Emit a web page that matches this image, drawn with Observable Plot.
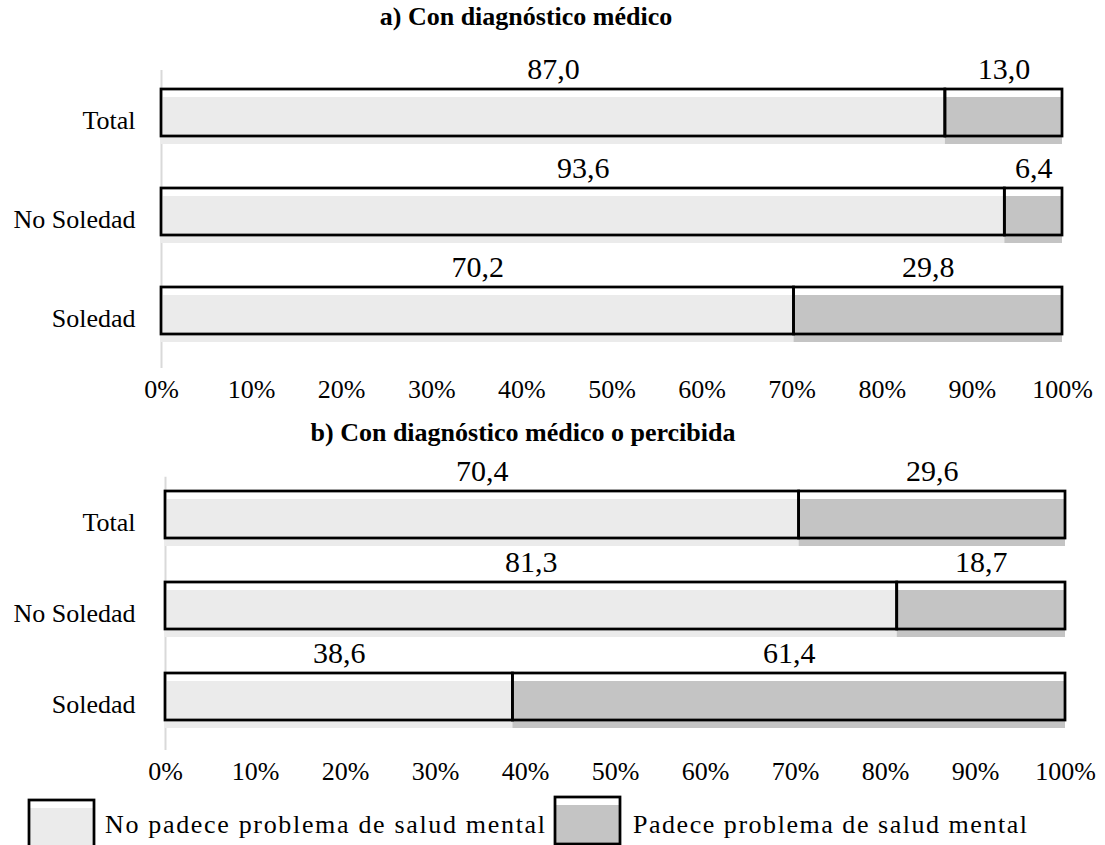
<!DOCTYPE html>
<html>
<head>
<meta charset="utf-8">
<script src="https://cdn.jsdelivr.net/npm/d3@7"></script>
<script src="https://cdn.jsdelivr.net/npm/@observablehq/plot@0.6"></script>
<style>
  html, body { margin: 0; padding: 0; background: #fff; }
  #root { position: relative; width: 1105px; height: 845px; overflow: hidden; background: #fff; }
  .layer { position: absolute; left: 0; }
  svg { overflow: visible; }
</style>
</head>
<body>
<div id="root">
  <div id="panelA" class="layer" style="top:40px"></div>
  <div id="panelB" class="layer" style="top:455px"></div>
  <div id="overlay" class="layer" style="top:0"></div>
</div>
<script>
// ---- data ----
const categories = ["Total", "No Soledad", "Soledad"];
const seriesNames = ["No padece problema de salud mental", "Padece problema de salud mental"];
const panelTitles = ["a) Con diagnóstico médico", "b) Con diagnóstico médico o percibida"];
const panelA_noPadece = [87.0, 93.6, 70.2];
const panelA_padece   = [13.0, 6.4, 29.8];
const panelB_noPadece = [70.4, 81.3, 38.6];
const panelB_padece   = [29.6, 18.7, 61.4];
const tickValues = [0, 10, 20, 30, 40, 50, 60, 70, 80, 90, 100];
const seriesColors = ["#ebebeb", "#c4c4c4"];

const FONT = "'Liberation Serif', 'Times New Roman', Times, serif";

function rows(no, yes) {
  const out = [];
  categories.forEach((c, i) => {
    out.push({cat: c, series: seriesNames[0], value: no[i]});
    out.push({cat: c, series: seriesNames[1], value: yes[i]});
  });
  return out;
}
const fmt = v => v.toFixed(1).replace(".", ",");

function panel(data, o) {
  return Plot.plot({
    width: 1105,
    height: o.height,
    marginLeft: o.marginLeft,
    marginRight: o.marginRight,
    marginTop: o.marginTop,
    marginBottom: o.marginBottom,
    style: {fontFamily: FONT, fontSize: "26px", color: "black", background: "transparent", overflow: "visible"},
    x: {domain: [0, 100]},
    y: {domain: categories, paddingInner: o.pi, paddingOuter: o.po},
    color: {domain: seriesNames, range: seriesColors},
    marks: [
      Plot.ruleX([0], {stroke: "#d9d9d9", strokeWidth: 2}),
      Plot.barX(data, Plot.stackX({x: "value", y: "cat", z: "series", fill: "series", order: seriesNames})),
      Plot.barX(data, Plot.stackX({x: "value", y: "cat", z: "series", fill: "none", stroke: "black", strokeWidth: 2.75, dy: -8, order: seriesNames})),
      Plot.text(data, Plot.stackX({x: "value", y: "cat", z: "series", order: seriesNames,
        text: d => fmt(d.value), lineAnchor: "bottom", dy: -42.5, fontSize: 30, fill: "black"})),
      Plot.axisX({ticks: tickValues, tickFormat: d => d + "%", tickSize: 0, tickPadding: 11.5, label: null, fontSize: 26}),
      Plot.axisY({tickSize: 0, tickPadding: o.padY, label: null, fontSize: 26})
    ]
  });
}

document.getElementById("panelA").append(panel(rows(panelA_noPadece, panelA_padece), {
  height: 370, marginLeft: 161, marginRight: 43, marginTop: 30, marginBottom: 42,
  pi: 0.527, po: 0.2635, padY: 26
}));
document.getElementById("panelB").append(panel(rows(panelB_noPadece, panelB_padece), {
  height: 340, marginLeft: 165, marginRight: 40, marginTop: 21.7, marginBottom: 45,
  pi: 0.484, po: 0.242, padY: 30
}));

// ---- titles & legend overlay ----
const ov = d3.select("#overlay").append("svg")
  .attr("width", 1105).attr("height", 845)
  .style("font-family", FONT);

ov.append("text").attr("x", 526).attr("y", 25).attr("text-anchor", "middle")
  .attr("font-weight", "bold").attr("font-size", 26).text(panelTitles[0]);
ov.append("text").attr("x", 523).attr("y", 441).attr("text-anchor", "middle")
  .attr("font-weight", "bold").attr("font-size", 26).text(panelTitles[1]);

const legendItems = [
  {box: 29, top: 800, tx: 105, len: 440},
  {box: 555, top: 797, tx: 633, len: 394}
];
legendItems.forEach((l, i) => {
  ov.append("rect").attr("x", l.box).attr("y", l.top + 8).attr("width", 65).attr("height", 47)
    .attr("fill", seriesColors[i]);
  ov.append("rect").attr("x", l.box).attr("y", l.top).attr("width", 65).attr("height", 47)
    .attr("fill", "none").attr("stroke", "black").attr("stroke-width", 2.75);
  ov.append("text").attr("x", l.tx).attr("y", 833).attr("font-size", 26)
    .attr("textLength", l.len).attr("lengthAdjust", "spacing").text(seriesNames[i]);
});
</script>
</body>
</html>
